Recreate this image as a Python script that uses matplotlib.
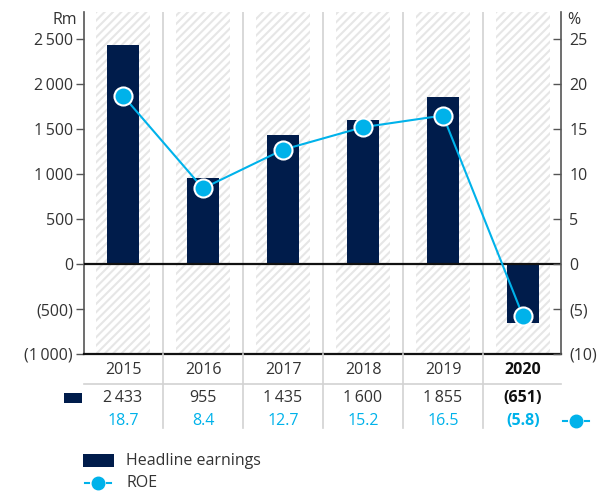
import matplotlib
matplotlib.use("Agg")
from matplotlib import pyplot as plt
from matplotlib.transforms import blended_transform_factory
from matplotlib.patches import Rectangle
from matplotlib.lines import Line2D

plt.rcParams['font.family'] = ['Open Sans', 'DejaVu Sans']
plt.rcParams['hatch.linewidth'] = 1.5

# data
years = ['2015', '2016', '2017', '2018', '2019', '2020']
earnings = [2433, 955, 1435, 1600, 1855, -651]
roe = [18.7, 8.4, 12.7, 15.2, 16.5, -5.8]
earn_labels = ['2\u2009433', '955', '1\u2009435', '1\u2009600', '1\u2009855', '(651)']
roe_labels = ['18.7', '8.4', '12.7', '15.2', '16.5', '(5.8)']
left_ticks = [-1000, -500, 0, 500, 1000, 1500, 2000, 2500]
left_labels = ['(1\u2009000)', '(500)', '0', '500', '1\u2009000', '1\u2009500', '2\u2009000', '2\u2009500']
right_ticks = [-10, -5, 0, 5, 10, 15, 20, 25]
right_labels = ['(10)', '(5)', '0', '5', '10', '15', '20', '25']

navy = '#001c4b'
cyan = '#00b2ea'
txt = '#333333'
sep = '#d2d2d2'
fs = 11.5

fig = plt.figure(figsize=(5.98, 4.93), dpi=100)
ax = fig.add_axes([84 / 598, 1 - 354 / 493, 477 / 598, 342 / 493])
ax.set_xlim(-0.4875, 5.475)
ax.set_ylim(-1000, 2800)

x = list(range(len(years)))

# hatched background columns and separators
for i in x:
    ax.axvspan(i - 0.3375, i + 0.3375, facecolor='white', edgecolor='#e6e6e6',
               hatch='////', linewidth=0, zorder=0)
for i in x[:-1]:
    ax.axvline(i + 0.5, color=sep, lw=1.2, zorder=0)

ax.bar(x, earnings, width=0.4, color=navy, zorder=2)
ax.axhline(0, color='#111111', lw=1.6, zorder=3)

ax.set_yticks(left_ticks)
ax.set_yticklabels(left_labels)
ax.set_xticks([])
ax.tick_params(axis='y', direction='out', length=6, width=1, color='#555555',
               labelsize=fs, labelcolor=txt, pad=2)
ax.spines['top'].set_visible(False)
ax.spines['right'].set_visible(False)
ax.spines['left'].set_color('#555555')
ax.spines['left'].set_linewidth(1.2)
ax.spines['bottom'].set_color('#111111')
ax.spines['bottom'].set_linewidth(1.6)

ax2 = ax.twinx()
ax2.set_ylim(-10, 28)
ax2.plot(x, roe, color=cyan, lw=1.5, marker='o', markersize=13,
         markerfacecolor=cyan, markeredgecolor='white', markeredgewidth=1.5,
         zorder=5)
ax2.set_yticks(right_ticks)
ax2.set_yticklabels(right_labels)
ax2.tick_params(axis='y', direction='in', length=6, width=1, color='#555555',
                labelsize=fs, labelcolor=txt, pad=6)
for s in ['top', 'left', 'bottom']:
    ax2.spines[s].set_visible(False)
ax2.spines['right'].set_color('#555555')
ax2.spines['right'].set_linewidth(1.2)

# unit labels
fig.text(77 / 598, 1 - 20 / 493, 'Rm', ha='right', va='center', fontsize=fs, color=txt)
fig.text(567 / 598, 1 - 20 / 493, '%', ha='left', va='center', fontsize=fs, color=txt)

# table under the chart
tr = blended_transform_factory(ax.transData, fig.transFigure)
for i in x:
    last = i == len(years) - 1
    w = 'bold' if last else 'normal'
    ax.text(i, 1 - 370 / 493, years[i], transform=tr, ha='center', va='center',
            fontsize=fs, color='#111111' if last else txt, fontweight=w)
    ax.text(i, 1 - 398 / 493, earn_labels[i], transform=tr, ha='center', va='center',
            fontsize=fs, color='#111111' if last else txt, fontweight=w)
    ax.text(i, 1 - 421 / 493, roe_labels[i], transform=tr, ha='center', va='center',
            fontsize=fs, color=cyan, fontweight=w)
for i in x[:-1]:
    fig.add_artist(Line2D([i + 0.5, i + 0.5], [1 - 354 / 493, 1 - 428 / 493],
                          transform=tr, color=sep, lw=1.2))
fig.add_artist(Line2D([-0.4875, 5.475], [1 - 384 / 493, 1 - 384 / 493],
                      transform=tr, color=sep, lw=1.2))

# row markers
fig.add_artist(Rectangle((64 / 598, 1 - 403 / 493), 18 / 598, 10 / 493,
                         transform=fig.transFigure, color=navy, lw=0))


def roe_key(cx, cy):
    fig.add_artist(Line2D([(cx - 13) / 598, (cx - 9) / 598], [1 - cy / 493] * 2,
                          transform=fig.transFigure, color=cyan, lw=1.5))
    fig.add_artist(Line2D([(cx + 9) / 598, (cx + 13) / 598], [1 - cy / 493] * 2,
                          transform=fig.transFigure, color=cyan, lw=1.5))
    fig.add_artist(Line2D([cx / 598], [1 - cy / 493], transform=fig.transFigure,
                          marker='o', markersize=9, color=cyan, lw=0))


roe_key(576, 421)

# legend
fig.add_artist(Rectangle((83 / 598, 1 - 467 / 493), 31 / 598, 13 / 493,
                         transform=fig.transFigure, color=navy, lw=0))
fig.text(126 / 598, 1 - 461 / 493, 'Headline earnings', ha='left', va='center',
         fontsize=fs, color=txt)
roe_key(98, 483)
fig.text(126 / 598, 1 - 483 / 493, 'ROE', ha='left', va='center',
         fontsize=fs, color=txt)

fig.savefig('out.png', dpi=100)
